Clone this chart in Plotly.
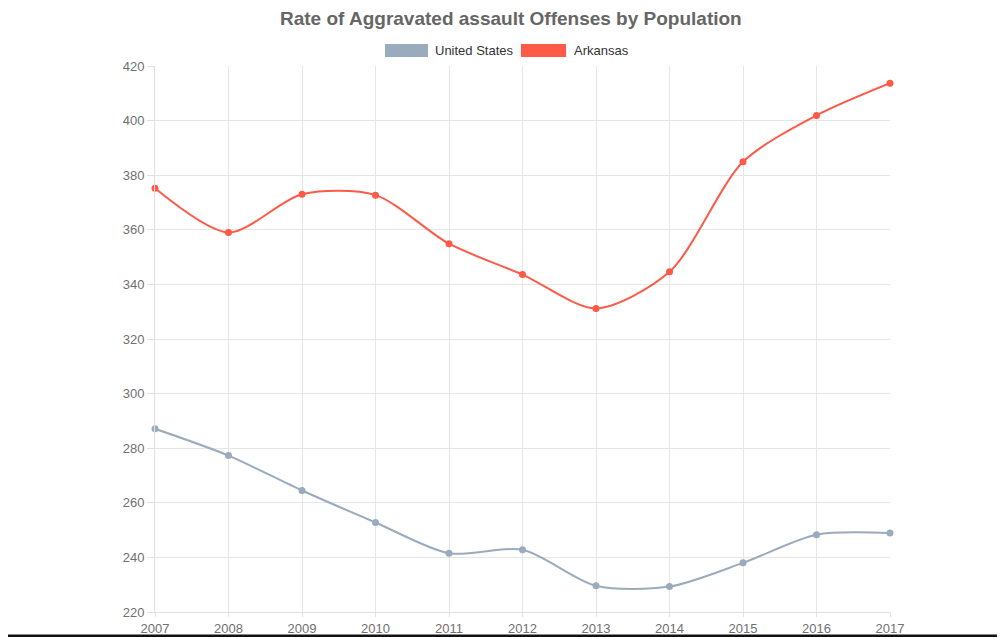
import plotly.graph_objects as go

years = [2007, 2008, 2009, 2010, 2011, 2012, 2013, 2014, 2015, 2016, 2017]
us_values = [287.1, 277.3, 264.5, 252.8, 241.5, 242.8, 229.6, 229.3, 238.0, 248.3, 248.9]
ar_values = [375.2, 359.0, 373.0, 372.7, 354.9, 343.6, 331.2, 344.6, 384.9, 401.9, 413.7]
series_names = ["United States", "Arkansas"]
series_colors = ["#9aabbd", "#fd5a48"]
title_text = "Rate of Aggravated assault Offenses by Population"

OFF = 8  # default page body margin
W, H = 1005 - OFF, 637 - OFF
# plot area in screen pixels
L, R, T, B = 155, 890, 66, 612
l, r, t, b = L - OFF, R - OFF, T - OFF, B - OFF

def px(x):
    return (x - OFF - l) / (r - l)

def py(y):
    return (b - (y - OFF)) / (b - t)

fig = go.Figure()
for name, vals, col in zip(series_names, [us_values, ar_values], series_colors):
    fig.add_trace(go.Scatter(
        x=years, y=vals, name=name, mode="lines+markers",
        line=dict(color=col, width=2, shape="spline", smoothing=0.8),
        marker=dict(color=col, size=7),
        showlegend=False, cliponaxis=False,
    ))

shapes = []
annotations = []
# bottom black border
shapes.append(dict(type="rect", xref="paper", yref="paper", x0=px(OFF), x1=px(1005),
                   y0=py(637), y1=py(634.5), fillcolor="#111111", line=dict(width=0), layer="above"))

# legend
legend_items = [(385, 428, 433), (521, 566, 572)]
for (bx0, bx1, tx), name, col in zip(legend_items, series_names, series_colors):
    shapes.append(dict(type="rect", xref="paper", yref="paper", x0=px(bx0), x1=px(bx1),
                       y0=py(57), y1=py(44), fillcolor=col, line=dict(width=0)))
    annotations.append(dict(xref="paper", yref="paper", x=px(tx), y=py(50.5), text=name,
                            showarrow=False, xanchor="left", yanchor="middle",
                            font=dict(family="Liberation Sans, Arial, sans-serif", size=13, color="#333333")))

annotations.append(dict(xref="paper", yref="paper", x=px(511), y=py(18), text="<b>" + title_text + "</b>",
                        showarrow=False, xanchor="center", yanchor="middle",
                        font=dict(family="Liberation Sans, Arial, sans-serif", size=19, color="#666666")))

fig.update_layout(
    width=W, height=H,
    margin=dict(l=l, r=W - r, t=t, b=H - b, pad=0, autoexpand=False),
    paper_bgcolor="white", plot_bgcolor="white",
    shapes=shapes, annotations=annotations,
    showlegend=False,
    font=dict(family="Liberation Sans, Arial, sans-serif", size=13, color="#666666"),
)
fig.update_xaxes(
    range=[2007, 2017], tickvals=years, ticktext=[str(y) for y in years],
    showgrid=True, gridcolor="#e6e6e6", gridwidth=1, automargin=False,
    showline=True, linecolor="#e0e0e0", ticks="outside", ticklen=4, tickcolor="#e0e0e0",
    zeroline=False, tickfont=dict(size=13, color="#707070"),
)
fig.update_yaxes(
    range=[220, 420], dtick=20, tick0=220, automargin=False,
    showgrid=True, gridcolor="#e6e6e6", gridwidth=1,
    showline=True, linecolor="#e0e0e0", ticks="outside", ticklen=7, tickcolor="#e0e0e0",
    zeroline=False, tickfont=dict(size=13, color="#707070"),
)

fig.write_html("out.html")
